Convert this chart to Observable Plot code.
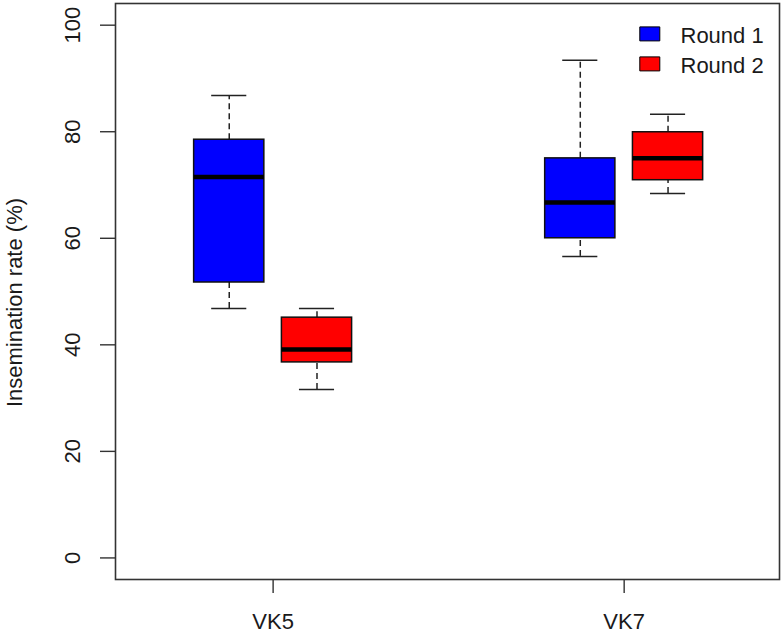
<!DOCTYPE html>
<html><head><meta charset="utf-8">
<script src="https://cdn.jsdelivr.net/npm/d3@7"></script>
<script src="https://cdn.jsdelivr.net/npm/@observablehq/plot@0.6"></script>
<style>
body{margin:0;background:#fff;}
#chart svg{display:block;font-family:"Liberation Sans",Arial,sans-serif;}
</style>
</head><body><div id="chart"></div>
<script>
// categories
const groups = ["VK5", "VK7"];
const rounds = ["Round 1", "Round 2"];
const colors = ["#0000ff", "#ff0000"];
// five-number summaries: [min, q1, median, q3, max]
const vk5Round1 = [46.8, 51.7, 71.5, 78.5, 86.8];
const vk5Round2 = [31.6, 36.7, 39.1, 45.1, 46.8];
const vk7Round1 = [56.6, 60.0, 66.7, 75.0, 93.4];
const vk7Round2 = [68.4, 70.9, 75.0, 79.9, 83.3];
const yTicks = [0, 20, 40, 60, 80, 100];
const yLabel = "Insemination rate (%)";

const summaries = [[vk5Round1, vk5Round2], [vk7Round1, vk7Round2]];
const stats = [];
groups.forEach((g, gi) => rounds.forEach((r, ri) => {
  const [min, q1, med, q3, max] = summaries[gi][ri];
  stats.push({group: g, round: r, pos: 1 + gi * 4 + ri, min, q1, med, q3, max});
}));
const groupPos = groups.map((g, gi) => 1.5 + gi * 4);

const rectSymbol = {draw(ctx) { ctx.rect(-10, -7, 20, 14); }};
const font = 22;
const ink = "#1a1a1a";

const legendMarks = rounds.flatMap((r, i) => [
  Plot.dot([r], {frameAnchor: "top-right", dx: -129.7, dy: 30.4 + i * 30, symbol: rectSymbol,
    fill: colors[i], stroke: "#000", strokeWidth: 1}),
  Plot.text([r], {text: d => d, frameAnchor: "top-right", dx: -99, dy: 32.7 + i * 29.5,
    textAnchor: "start", lineAnchor: "middle", fontSize: font, fill: ink})
]);

const chart = Plot.plot({
  width: 784, height: 636,
  marginLeft: 115, marginRight: 5, marginTop: 3, marginBottom: 57,
  x: {type: "linear", domain: [-0.296, 7.27]},
  y: {domain: [-4.05, 104.07]},
  color: {domain: rounds, range: colors},
  marks: [
    Plot.ruleX(stats, {x: "pos", y1: "q3", y2: "max", stroke: "#222", strokeWidth: 1.5, strokeDasharray: "6,4"}),
    Plot.ruleX(stats, {x: "pos", y1: "min", y2: "q1", stroke: "#222", strokeWidth: 1.5, strokeDasharray: "6,4"}),
    Plot.ruleY(stats, {y: "max", x1: d => d.pos - 0.2, x2: d => d.pos + 0.2, stroke: "#222", strokeWidth: 1.5}),
    Plot.ruleY(stats, {y: "min", x1: d => d.pos - 0.2, x2: d => d.pos + 0.2, stroke: "#222", strokeWidth: 1.5}),
    Plot.rect(stats, {x1: d => d.pos - 0.4, x2: d => d.pos + 0.4, y1: "q1", y2: "q3", fill: "round", stroke: "#111", strokeWidth: 1.5}),
    Plot.ruleY(stats, {y: "med", x1: d => d.pos - 0.4, x2: d => d.pos + 0.4, stroke: "#000", strokeWidth: 4.5}),
    Plot.frame({stroke: "#333", strokeWidth: 1.6}),
    Plot.axisY(yTicks, {tickSize: 15, stroke: "#333", strokeWidth: 1.4, fill: "none", label: null}),
    Plot.text(yTicks, {y: d => d, text: d => String(d), frameAnchor: "left", dx: -43, rotate: -90,
      textAnchor: "middle", lineAnchor: "middle", fontSize: font, fill: ink}),
    Plot.axisX(groupPos, {tickSize: 14, tickPadding: 20, stroke: "#333", strokeWidth: 1.4, fill: ink,
      fontSize: font, label: null, tickFormat: d => groups[Math.round((d - 1.5) / 4)]}),
    Plot.text([yLabel], {text: d => d, frameAnchor: "left", dx: -101, dy: 11, rotate: -90,
      textAnchor: "middle", lineAnchor: "middle", fontSize: font, fill: ink}),
    ...legendMarks
  ]
});
document.getElementById("chart").append(chart);
</script>
</body></html>
